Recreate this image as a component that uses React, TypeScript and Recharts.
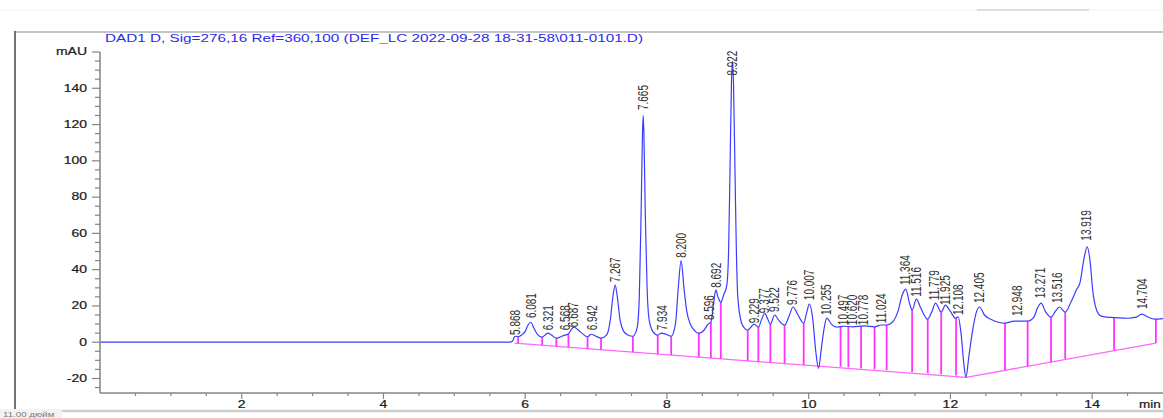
import React from 'react';
import { ComposedChart, Line, Scatter, XAxis, YAxis, ReferenceLine } from 'recharts';

// signal trace (min, mAU)
const TIMES = [
  0, 1, 2, 3, 4, 5, 5.78, 5.82, 5.85, 5.87, 5.9, 5.95, 6.0, 6.04, 6.08, 6.12, 6.17, 6.24, 6.28, 6.32,
  6.37, 6.44, 6.5, 6.56, 6.61, 6.65, 6.69, 6.74, 6.8, 6.88, 6.93, 6.99, 7.07, 7.15, 7.2, 7.24, 7.27, 7.3,
  7.34, 7.39, 7.45, 7.52, 7.58, 7.61, 7.635, 7.655, 7.665, 7.675, 7.695, 7.72, 7.75, 7.8, 7.87, 7.92,
  7.98, 8.06, 8.12, 8.16, 8.2, 8.24, 8.28, 8.33, 8.4, 8.45, 8.53, 8.58, 8.62, 8.66, 8.69, 8.72, 8.76,
  8.8, 8.845, 8.87, 8.89, 8.91, 8.925, 8.94, 8.96, 8.98, 9.0, 9.05, 9.1, 9.14, 9.19, 9.23, 9.29, 9.34,
  9.38, 9.42, 9.46, 9.52, 9.58, 9.66, 9.72, 9.78, 9.85, 9.93, 9.97, 10.01, 10.06, 10.1, 10.14, 10.18,
  10.22, 10.255, 10.32, 10.4, 10.5, 10.62, 10.78, 10.93, 11.02, 11.1, 11.18, 11.26, 11.32, 11.37, 11.42,
  11.46, 11.52, 11.58, 11.68, 11.74, 11.79, 11.87, 11.93, 12.0, 12.07, 12.11, 12.15, 12.19, 12.22,
  12.26, 12.32, 12.37, 12.41, 12.48, 12.57, 12.77, 12.9, 13.09, 13.18, 13.23, 13.28, 13.34, 13.42,
  13.48, 13.54, 13.62, 13.7, 13.78, 13.83, 13.88, 13.93, 13.97, 14.01, 14.06, 14.12, 14.2, 14.31,
  14.5, 14.62, 14.7, 14.78, 14.88, 15.0,
];
const SIGNAL_MAU = [
  0, 0, 0, 0, 0, 0, 0, 0.5, 3, 3.3, 3, 4, 6, 9.5, 11, 8, 4.5, 2.8, 4, 5,
  4, 2.2, 3, 3.9, 4.5, 7, 8.3, 7, 5, 3, 4.4, 3.5, 2.2, 4, 12, 26, 31.5, 25,
  12, 6, 4, 3.3, 8, 25, 70, 115, 125, 115, 70, 30, 12, 6, 3.9, 5,
  4.5, 3.3, 10, 30, 45, 30, 17, 10, 6, 5, 7, 10, 11, 22, 28.8, 25, 22,
  26, 31.5, 50, 95, 142, 155, 142, 95, 50, 25, 11, 7.5, 6.6, 8.5, 10, 8.3, 13,
  16, 13, 10, 15, 12, 9.4, 14, 19.4, 15, 10.5, 16, 21, 12, -5, -14.4, -3,
  8, 13.3, 10, 8.3, 8.8, 8.5, 9, 8.5, 9.5, 9.5, 11, 17, 26, 29.3, 22,
  17.7, 23.8, 19, 12.7, 17, 21.6, 16.6, 20.5, 17, 13.3, 14, 5, -12, -19.4,
  -8, 8, 17, 19.4, 15, 12.7, 10.5, 11.6, 11.6, 14, 19, 21.6, 17, 13.8,
  17, 19.4, 16.6, 22, 29, 33, 45, 52.6, 45, 28, 18, 14.5, 13.8, 13.6,
  13.2, 13.8, 15.5, 14, 12.7, 13,
];

// integration baseline
const BASE_T = [5.85, 12.22, 14.9];
const BASE_V = [-0.5, -19.4, -0.5];

// peak drop lines
const DROP_T = [5.9, 6.24, 6.44, 6.61, 6.88, 7.07, 7.52, 7.87, 8.06, 8.45, 8.62, 8.76, 9.14, 9.29, 9.46, 9.66, 9.93,
  10.45, 10.56, 10.74, 10.93, 11.1, 11.46, 11.68, 11.87, 12.08, 12.77, 13.09, 13.42, 13.62, 14.31, 14.9];
const DROP_TOP = [3, 2.8, 2.2, 4.5, 3, 2.2, 3.3, 3.9, 3.3, 5, 11, 22, 6.6, 8.3, 10, 9.4, 10.5,
  8.5, 8.6, 8.8, 8.5, 9.5, 17.7, 12.7, 16.6, 13.5, 10.5, 11.6, 13.8, 16.6, 13.6, 12.7];
const DROP_BOTTOM = [-0.6, -1.7, -2.3, -2.8, -3.6, -4.2, -5.5, -6.5, -7.1, -8.2, -8.7, -9.2, -10.3, -10.7, -11.2, -11.8, -12.6,
  -13.5, -13.8, -14.4, -14.9, -15.4, -16.5, -17.1, -17.7, -18.3, -15.5, -13.3, -11.0, -9.2, -4.5, -0.5];

// retention time labels
const PEAK_RT = ['5.868', '6.081', '6.321', '6.568', '6.687', '6.942', '7.267', '7.665', '7.934', '8.200', '8.596',
  '8.692', '8.922', '9.229', '9.377', '9.522', '9.776', '10.007', '10.255', '10.497', '10.620', '10.778', '11.024',
  '11.364', '11.516', '11.779', '11.925', '12.108', '12.405', '12.948', '13.271', '13.516', '13.919', '14.704'];
const PEAK_LABEL_Y = [4, 13.3, 6.6, 6.6, 8.3, 6.6, 33, 128, 6.6, 46.5, 12.2,
  30, 147, 10.5, 16, 16.6, 20.5, 23.2, 15, 9.4, 9.4, 9.4, 10.5,
  31.5, 25, 23.2, 20.5, 15, 21.6, 14.4, 24.3, 21.6, 56, 18.3];

const Y_TICKS = [-25, -20, -15, -10, -5, 0, 5, 10, 15, 20, 25, 30, 35, 40, 45, 50, 55, 60, 65, 70, 75, 80, 85, 90,
  95, 100, 105, 110, 115, 120, 125, 130, 135, 140, 145, 150, 155, 160];
const X_TICKS = [0.5, 1, 1.5, 2, 2.5, 3, 3.5, 4, 4.5, 5, 5.5, 6, 6.5, 7, 7.5, 8, 8.5, 9, 9.5, 10, 10.5, 11, 11.5,
  12, 12.5, 13, 13.5, 14, 14.5, 15];

const signal = TIMES.map((t, i) => ({ t, v: SIGNAL_MAU[i] }));
const baseline = BASE_T.map((t, i) => ({ t, v: BASE_V[i] }));
const peaks = PEAK_RT.map((name, i) => ({ t: parseFloat(name), v: PEAK_LABEL_Y[i], name }));

const FONT = '"Liberation Sans", Arial, sans-serif';
const AXIS = '#858585';

const YTick = (props: any) => {
  const { x, y, payload } = props;
  const val = payload.value;
  const major = val % 20 === 0;
  const label = val === 160 ? 'mAU' : major ? String(val) : '';
  return (
    <g>
      <line x1={x - (major ? 8 : 5)} x2={x} y1={y} y2={y} stroke={AXIS} strokeWidth={1.2} />
      {label && (
        <text transform={`translate(${x - 13},${y}) scale(1.4,1)`} textAnchor="end" dominantBaseline="central"
          fontSize={10} fontFamily={FONT} fill="#1a1a1a" stroke="#1a1a1a" strokeWidth={0.2}>{label}</text>
      )}
    </g>
  );
};

const XTick = (props: any) => {
  const { x, y, payload } = props;
  const val = payload.value;
  if (val === 15) {
    return (
      <text transform={`translate(${x - 24},${y + 15}) scale(1.35,1)`} fontSize={10} fontFamily={FONT}
        fill="#1a1a1a" stroke="#1a1a1a" strokeWidth={0.2}>min</text>
    );
  }
  const major = val % 2 === 0;
  return (
    <g>
      <line x1={x} x2={x} y1={y} y2={y + (major ? 6 : 3)} stroke={AXIS} strokeWidth={1.2} />
      {major && (
        <text transform={`translate(${x},${y + 15}) scale(1.4,1)`} textAnchor="middle" fontSize={10}
          fontFamily={FONT} fill="#1a1a1a" stroke="#1a1a1a" strokeWidth={0.2}>{val}</text>
      )}
    </g>
  );
};

const PeakLabel = (props: any) => {
  const { cx, cy, payload } = props;
  return (
    <text transform={`translate(${cx},${cy}) rotate(-90) scale(1,1.4)`} dominantBaseline="central"
      fontSize={10} fontFamily={FONT} fill="#333">{payload.name}</text>
  );
};

export default function App() {
  return (
    <div style={{ position: 'absolute', left: 0, top: 0, width: 1163, height: 418, background: '#fff', overflow: 'hidden' }}>
      <ComposedChart width={1163} height={418} margin={{ top: 52, right: 0, left: 40, bottom: 0 }}>
        <XAxis dataKey="t" type="number" domain={[0, 15]} ticks={X_TICKS} interval={0} height={25}
          tickSize={0} tickMargin={0} tickLine={false} tick={<XTick />} axisLine={{ stroke: AXIS, strokeWidth: 1.5 }} />
        <YAxis type="number" domain={[-28, 160]} ticks={Y_TICKS} interval={0} width={60}
          tickSize={0} tickMargin={0} tickLine={false} tick={<YTick />} axisLine={{ stroke: AXIS, strokeWidth: 1.5 }} />
        <Line data={baseline} dataKey="v" type="linear" stroke="#ff66ff" strokeWidth={1.3} dot={false} isAnimationActive={false} />
        {DROP_T.map((t, i) => (
          <ReferenceLine key={`drop-${i}`} segment={[{ x: t, y: DROP_BOTTOM[i] }, { x: t, y: DROP_TOP[i] }]}
            stroke="#ff33ff" strokeWidth={1.8} ifOverflow="visible" />
        ))}
        <Line data={signal} dataKey="v" type="monotone" stroke="#3c3cff" strokeWidth={1.2} dot={false} isAnimationActive={false} />
        <Scatter data={peaks} dataKey="v" shape={<PeakLabel />} isAnimationActive={false} />
      </ComposedChart>
      <svg width={1163} height={418} style={{ position: 'absolute', left: 0, top: 0, pointerEvents: 'none' }}>
        <line x1={0} x2={1163} y1={10} y2={10} stroke="#f0f0f0" strokeWidth={1} />
        <line x1={977} x2={1089} y1={10} y2={10} stroke="#d6d6d6" strokeWidth={1.5} />
        <line x1={15} x2={1163} y1={32} y2={32} stroke="#c4c4c4" strokeWidth={2} />
        <line x1={15} x2={15} y1={31} y2={411} stroke="#444" strokeWidth={1.5} />
        <line x1={62} x2={1163} y1={411} y2={411} stroke="#cccccc" strokeWidth={2.5} />
        <rect x={0} y={409} width={62} height={9} fill="#f3f3f3" />
        <text transform="translate(3,417) scale(1.3,1)" fontSize={7.5} fontFamily={FONT} fill="#777">11.00 дюйм</text>
        <text x={105} y={42} fontSize={10} fontFamily={FONT} fill="#2b2bf0" textLength={538} lengthAdjust="spacingAndGlyphs">
          DAD1 D, Sig=276,16 Ref=360,100 (DEF_LC 2022-09-28 18-31-58\011-0101.D)
        </text>
      </svg>
    </div>
  );
}
